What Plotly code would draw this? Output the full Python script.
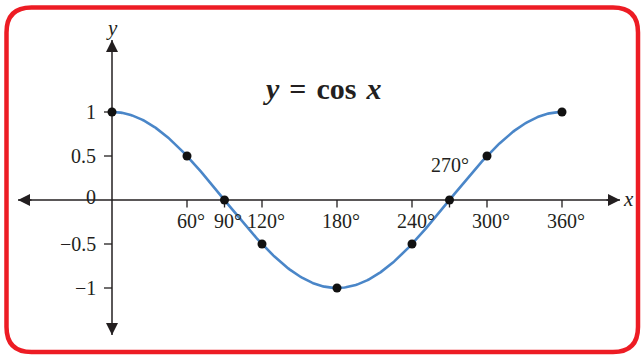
import numpy as np
import plotly.graph_objects as go

# Marked points of y = cos x (degrees)
angles = [0, 60, 90, 120, 180, 240, 270, 300, 360]
cos_values = [1, 0.5, 0, -0.5, -1, -0.5, 0, 0.5, 1]

x_ticks = [60, 90, 120, 180, 240, 270, 300, 360]
x_tick_labels = ["60°", "90°", "120°", "180°", "240°", "270°", "300°", "360°"]
y_ticks = [1, 0.5, 0, -0.5, -1]
y_tick_labels = ["1", "0.5", "0", "−0.5", "−1"]

W, H = 641, 356
X_RANGE = [-89.6, 423.2]
Y_RANGE = [-156 / 88, 200 / 88]

AXIS_COLOR = "#231F20"
CURVE_COLOR = "#4A86C8"
FRAME_COLOR = "#ED1C24"
SERIF = "Liberation Serif"

# the graphed function itself, y = cos x over one period
curve_x = np.linspace(0, 360, 361)
curve_y = np.cos(np.radians(curve_x))

fig = go.Figure()

fig.add_trace(go.Scatter(
    x=curve_x, y=curve_y, mode="lines",
    line=dict(color=CURVE_COLOR, width=2.6),
    hoverinfo="skip", showlegend=False,
))
fig.add_trace(go.Scatter(
    x=angles, y=cos_values, mode="markers",
    marker=dict(color="#111111", size=9),
    showlegend=False,
))

shapes = []
# axis lines
x_tip_left, x_tip_right = -75.2, 406.4
y_tip_top, y_tip_bottom = 1.818, -1.534
shapes.append(dict(type="line", xref="x", yref="y", x0=x_tip_left, x1=x_tip_right,
                   y0=0, y1=0, line=dict(color=AXIS_COLOR, width=1.5), layer="below"))
shapes.append(dict(type="line", xref="x", yref="y", x0=0, x1=0,
                   y0=y_tip_bottom, y1=y_tip_top, line=dict(color=AXIS_COLOR, width=1.5), layer="below"))
# tick marks
for t in x_ticks:
    shapes.append(dict(type="line", xref="x", yref="y", x0=t, x1=t, y0=0, y1=-0.085,
                       line=dict(color=AXIS_COLOR, width=1.3), layer="below"))
for t in y_ticks:
    if t == 0:
        continue
    shapes.append(dict(type="line", xref="x", yref="y", x0=0, x1=-6.4, y0=t, y1=t,
                       line=dict(color=AXIS_COLOR, width=1.3), layer="below"))

# rounded red frame in paper coordinates
def p(px, py):
    return f"{px / W:.5f},{1 - py / H:.5f}"

x0, x1, y0, y1, r = 6.5, 638.0, 7.5, 352.0, 25
frame = (f"M {p(x0 + r, y0)} L {p(x1 - r, y0)} Q {p(x1, y0)} {p(x1, y0 + r)} "
         f"L {p(x1, y1 - r)} Q {p(x1, y1)} {p(x1 - r, y1)} "
         f"L {p(x0 + r, y1)} Q {p(x0, y1)} {p(x0, y1 - r)} "
         f"L {p(x0, y0 + r)} Q {p(x0, y0)} {p(x0 + r, y0)} Z")
shapes.append(dict(type="path", xref="paper", yref="paper", path=frame,
                   line=dict(color=FRAME_COLOR, width=4.5)))

annotations = []
# arrowheads at the axis ends
arrow_kw = dict(xref="x", yref="y", axref="x", ayref="y", text="", showarrow=True,
                arrowhead=2, arrowsize=1.6, arrowwidth=1.5, arrowcolor=AXIS_COLOR)
annotations.append(dict(x=x_tip_right, y=0, ax=x_tip_right - 12, ay=0, **arrow_kw))
annotations.append(dict(x=x_tip_left, y=0, ax=x_tip_left + 12, ay=0, **arrow_kw))
annotations.append(dict(x=0, y=y_tip_top, ax=0, ay=y_tip_top - 0.12, **arrow_kw))
annotations.append(dict(x=0, y=y_tip_bottom, ax=0, ay=y_tip_bottom + 0.12, **arrow_kw))

tick_font = dict(family=SERIF, size=20, color=AXIS_COLOR)
for t, lab in zip(x_ticks, x_tick_labels):
    if t == 270:
        annotations.append(dict(x=t, y=0.4, text=lab, showarrow=False,
                                xref="x", yref="y", font=tick_font))
    else:
        annotations.append(dict(x=t + 3, y=-0.24, text=lab, showarrow=False,
                                xref="x", yref="y", font=tick_font))
for t, lab in zip(y_ticks, y_tick_labels):
    annotations.append(dict(x=-11.2, y=t + (0.03 if t == 0 else 0), text=lab, showarrow=False,
                            xanchor="right", xref="x", yref="y", font=tick_font))

# axis names and title
annotations.append(dict(x=0, y=1.95, text="<i>y</i>", showarrow=False, xref="x", yref="y",
                        font=dict(family=SERIF, size=21, color=AXIS_COLOR)))
annotations.append(dict(x=413.5, y=0.01, text="<i>x</i>", showarrow=False, xref="x", yref="y",
                        font=dict(family=SERIF, size=21, color=AXIS_COLOR)))
annotations.append(dict(x=168, y=1.27,
                        text="<b><i>y</i>\u200a = \u200acos\u200a <i>x</i></b>", showarrow=False,
                        xref="x", yref="y", font=dict(family=SERIF, size=30, color=AXIS_COLOR)))

fig.update_layout(
    width=W, height=H, autosize=False,
    margin=dict(l=0, r=0, t=0, b=0),
    paper_bgcolor="white", plot_bgcolor="white",
    xaxis=dict(range=X_RANGE, visible=False, fixedrange=True),
    yaxis=dict(range=Y_RANGE, visible=False, fixedrange=True),
    shapes=shapes, annotations=annotations, showlegend=False,
)

fig.write_html("out.html")
